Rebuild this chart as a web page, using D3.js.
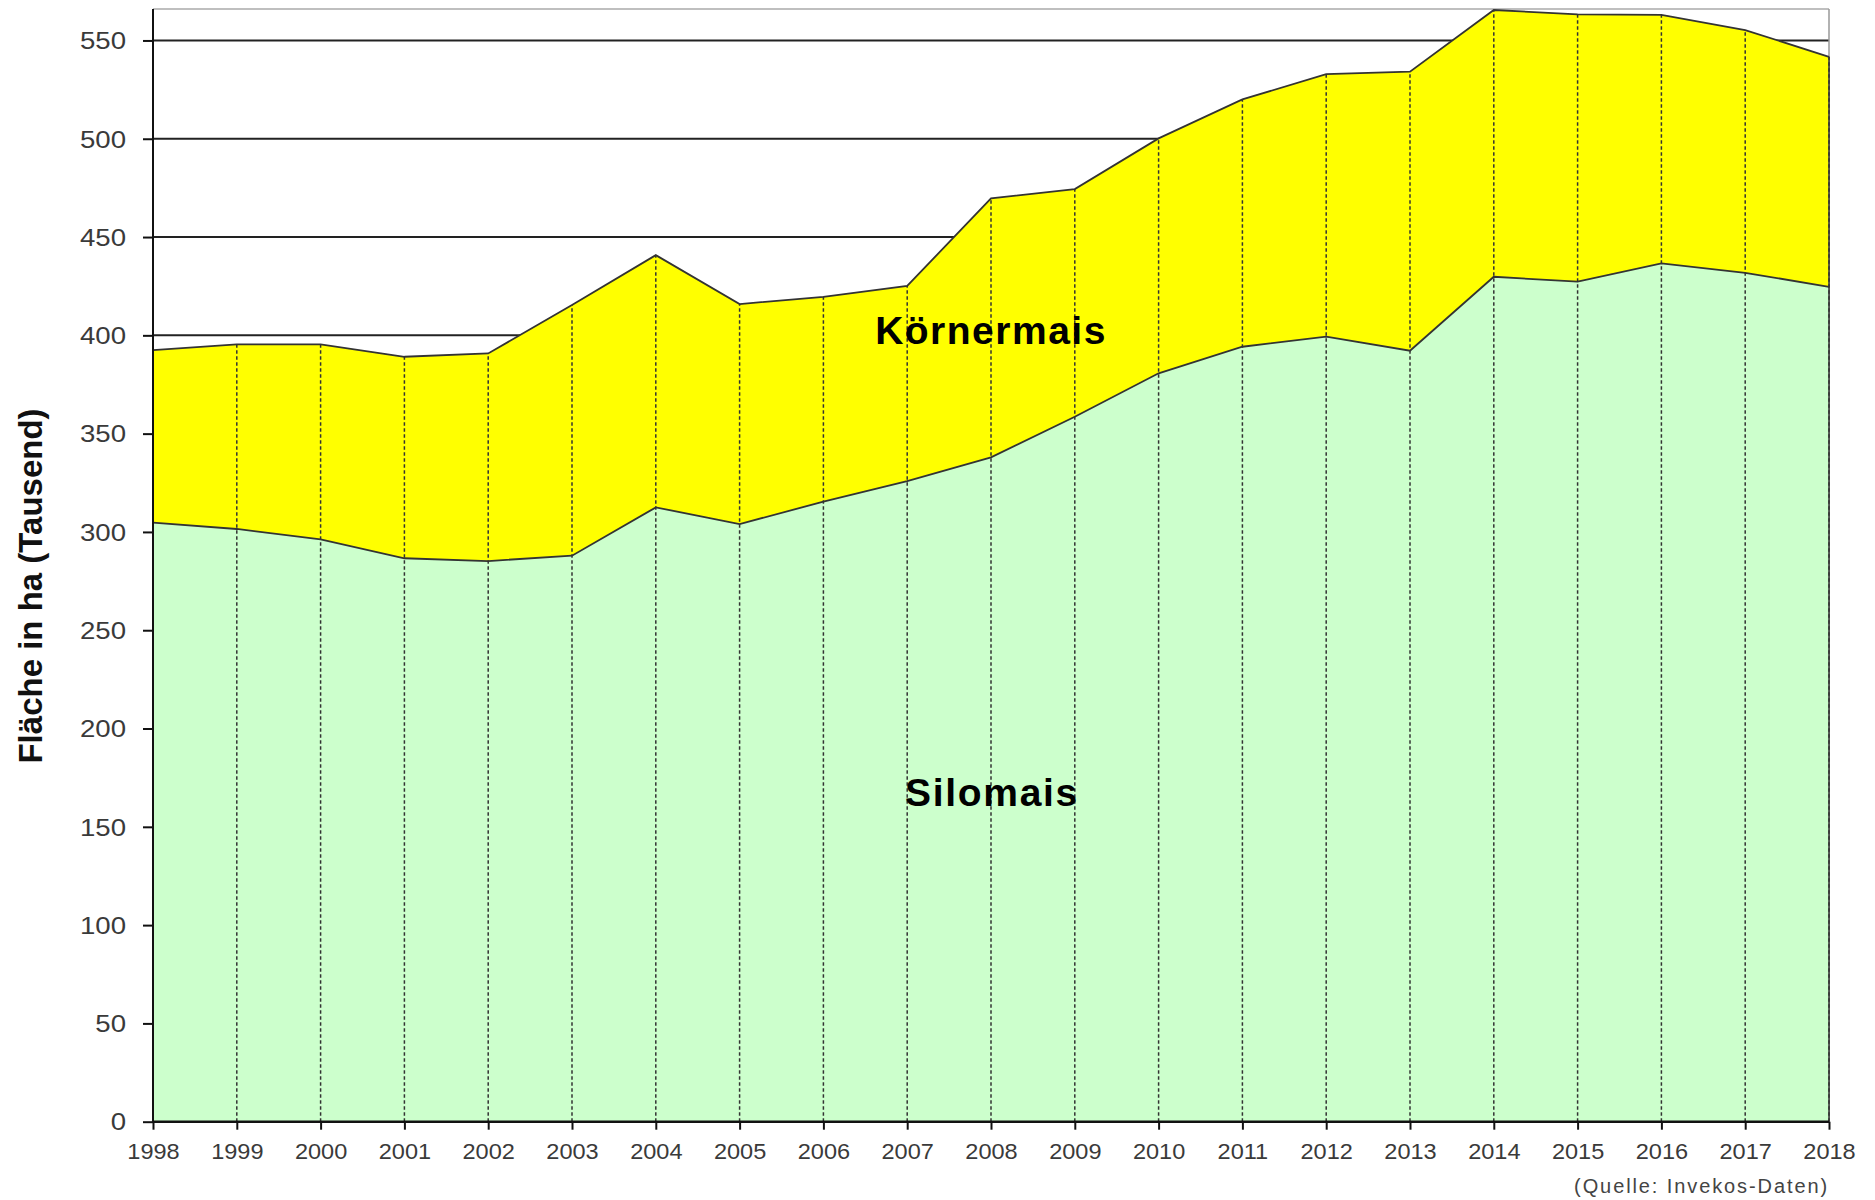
<!DOCTYPE html>
<html>
<head>
<meta charset="utf-8">
<script src="https://cdn.jsdelivr.net/npm/d3@7"></script>
<style>
  html, body { margin: 0; padding: 0; background: #fff; }
  svg { display: block; }
</style>
</head>
<body>
<svg id="chart" width="1875" height="1200"></svg>
<script>
const years = [1998,1999,2000,2001,2002,2003,2004,2005,2006,2007,2008,2009,2010,2011,2012,2013,2014,2015,2016,2017,2018];
const silomais = [304.7,301.5,296.2,286.6,285.2,287.9,312.5,304.0,315.4,325.9,337.9,358.6,380.7,394.2,399.3,392.2,429.8,427.3,436.6,431.8,424.7];
const koernermais = [87.8,93.9,99.2,102.5,105.6,127.5,128.3,111.9,104.2,99.2,131.8,115.8,119.5,125.8,133.6,141.9,135.7,136.0,126.4,123.5,117.0];
const yTicks = [0,50,100,150,200,250,300,350,400,450,500,550];
const gridTicks = [50,100,150,200,250,300,350,400,450,500,550];
const seriesNames = ["Silomais","Körnermais"];
const seriesColors = ["#CCFFCC","#FFFF00"];
const yTitle = "Fläche in ha (Tausend)";
const sourceNote = "(Quelle: Invekos-Daten)";

(function () {
const pL = 153, pR = 1829, pT = 9, pB = 1121.7;
const svg = d3.select("#chart");

const x = d3.scaleLinear().domain([d3.min(years), d3.max(years)]).range([pL, pR]);
const y = d3.scaleLinear().domain([0, 566]).range([pB, pT]);

const rows = years.map((yr, i) => ({year: yr, Silomais: silomais[i], "Körnermais": koernermais[i]}));
const stacked = d3.stack().keys(seriesNames)(rows);

// gridlines (behind areas)
svg.append("g").selectAll("line").data(gridTicks).join("line")
  .attr("x1", pL).attr("x2", pR)
  .attr("y1", d => y(d)).attr("y2", d => y(d))
  .attr("stroke", "#222").attr("stroke-width", 2);

// top and right border
svg.append("line").attr("x1", pL).attr("x2", pR).attr("y1", pT).attr("y2", pT)
  .attr("stroke", "#aaa").attr("stroke-width", 1.5);
svg.append("line").attr("x1", pR).attr("x2", pR).attr("y1", pT).attr("y2", pB)
  .attr("stroke", "#999").attr("stroke-width", 1.5);

// areas
const area = d3.area()
  .x(d => x(d.data.year))
  .y0(d => y(d[0]))
  .y1(d => y(d[1]));
svg.append("g").selectAll("path").data(stacked).join("path")
  .attr("d", area)
  .attr("fill", (d, i) => seriesColors[i]);

// drop lines (dashed)
svg.append("g").selectAll("line").data(stacked[1]).join("line")
  .attr("x1", d => x(d.data.year)).attr("x2", d => x(d.data.year))
  .attr("y1", y(0)).attr("y2", d => y(d[1]))
  .attr("stroke", "#333").attr("stroke-width", 1.5)
  .attr("stroke-dasharray", "3.5,2.5");

// outlines
const line = d3.line().x(d => x(d.data.year)).y(d => y(d[1]));
svg.append("g").selectAll("path").data(stacked).join("path")
  .attr("d", line)
  .attr("fill", "none")
  .attr("stroke", "#333").attr("stroke-width", 1.8);

// right border over the area edge
const last = stacked[1][stacked[1].length - 1];
svg.append("line").attr("x1", pR).attr("x2", pR).attr("y1", y(last[1])).attr("y2", pB)
  .attr("stroke", "#333").attr("stroke-width", 1.5);

// y axis
const yAxis = svg.append("g").attr("transform", `translate(${pL},0)`)
  .call(d3.axisLeft(y).tickValues(yTicks).tickSize(10).tickPadding(14).tickFormat(d3.format("d")));
yAxis.select(".domain").attr("stroke", "#111").attr("stroke-width", 2).attr("d", `M0,${pT}V${pB}`);
yAxis.selectAll(".tick line").attr("stroke", "#111").attr("stroke-width", 2);
yAxis.selectAll(".tick text")
  .attr("font-family", "Liberation Sans, Arial, sans-serif")
  .attr("font-size", 23).attr("fill", "#3a3a3a")
  .attr("x", -22.5).attr("dy", "0.36em")
  .attr("transform", "scale(1.2,1)");

// x axis
const xAxis = svg.append("g").attr("transform", `translate(0,${pB})`)
  .call(d3.axisBottom(x).tickValues(years).tickSize(8).tickPadding(14).tickFormat(d3.format("d")));
xAxis.select(".domain").attr("stroke", "#111").attr("stroke-width", 2.5).attr("d", `M${pL},0H${pR}`);
xAxis.selectAll(".tick line").attr("stroke", "#111").attr("stroke-width", 2);
xAxis.selectAll(".tick text")
  .attr("font-family", "Liberation Sans, Arial, sans-serif")
  .attr("font-size", 22).attr("fill", "#3a3a3a")
  .attr("transform", "scale(1.07,1)");

// series labels
svg.append("text").attr("x", 991).attr("y", 344)
  .attr("text-anchor", "middle")
  .attr("font-family", "Liberation Sans, Arial, sans-serif")
  .attr("font-weight", "bold").attr("font-size", 39)
  .attr("letter-spacing", 1.5).attr("fill", "#000")
  .text(seriesNames[1]);
svg.append("text").attr("x", 992).attr("y", 806)
  .attr("text-anchor", "middle")
  .attr("font-family", "Liberation Sans, Arial, sans-serif")
  .attr("font-weight", "bold").attr("font-size", 39)
  .attr("letter-spacing", 1.7).attr("fill", "#000")
  .text(seriesNames[0]);

// y title
svg.append("text")
  .attr("transform", "translate(42,586) rotate(-90)")
  .attr("text-anchor", "middle")
  .attr("font-family", "Liberation Sans, Arial, sans-serif")
  .attr("font-weight", "bold").attr("font-size", 33)
  .attr("fill", "#111")
  .text(yTitle);

// source note
svg.append("text").attr("x", 1829).attr("y", 1193)
  .attr("text-anchor", "end")
  .attr("font-family", "Liberation Sans, Arial, sans-serif")
  .attr("font-size", 20).attr("letter-spacing", 1.9)
  .attr("fill", "#444")
  .text(sourceNote);
})();
</script>
</body>
</html>
